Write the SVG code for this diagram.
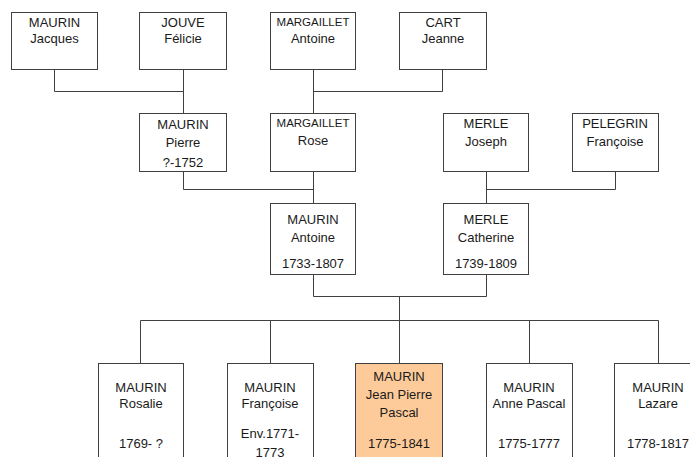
<svg xmlns="http://www.w3.org/2000/svg" width="690" height="457" viewBox="0 0 690 457">
<style>
.box{fill:#fff;stroke:#404040;stroke-width:1}
.me{fill:#FDCB9A;stroke:#404040;stroke-width:1}
text{font-family:"Liberation Sans",Arial,sans-serif;font-size:13px;fill:#1a1a1a;text-anchor:middle}
.sm{font-size:11.5px}
.conn{fill:none;stroke:#404040;stroke-width:1}
</style>
<rect width="690" height="457" fill="#fff"/>
<g id="connectors" class="conn">
<path d="M54.5 69 V91.5 H183.5 M183.5 69 V113"/>
<path d="M442.5 69 V91.5 H313.5 M313.5 69 V113"/>
<path d="M183.5 172 V189.5 H313.5 M313.5 172 V203"/>
<path d="M615.5 172 V189.5 H486.5 M486.5 172 V203"/>
<path d="M313.5 275 V296.5 H486.5 V275 M399.5 296.5 V363"/>
<path d="M140.5 363 V320.5 H658.5 V363 M270.5 320.5 V363 M529.5 320.5 V363"/>
</g>
<g id="n-jacques"><rect class="box" x="11.5" y="12.5" width="86" height="57"/><text x="54.5" y="27">MAURIN</text><text x="54.5" y="43">Jacques</text></g>
<g id="n-felicie"><rect class="box" x="139.5" y="12.5" width="87" height="57"/><text x="183" y="27">JOUVE</text><text x="183" y="43">Félicie</text></g>
<g id="n-antoine-m"><rect class="box" x="270.5" y="12.5" width="85" height="57"/><text class="sm" x="313" y="26">MARGAILLET</text><text x="313" y="43">Antoine</text></g>
<g id="n-jeanne"><rect class="box" x="399.5" y="12.5" width="87" height="57"/><text x="443" y="27">CART</text><text x="443" y="43">Jeanne</text></g>
<g id="n-pierre"><rect class="box" x="139.5" y="113.5" width="87" height="58"/><text x="183" y="129">MAURIN</text><text x="183" y="147">Pierre</text><text x="183" y="167">?-1752</text></g>
<g id="n-rose"><rect class="box" x="270.5" y="113.5" width="85" height="58"/><text class="sm" x="313" y="127">MARGAILLET</text><text x="313" y="145">Rose</text></g>
<g id="n-joseph"><rect class="box" x="443.5" y="113.5" width="85" height="58"/><text x="486" y="128">MERLE</text><text x="486" y="146">Joseph</text></g>
<g id="n-francoise-p"><rect class="box" x="572.5" y="113.5" width="86" height="58"/><text x="615" y="128">PELEGRIN</text><text x="615" y="146">Françoise</text></g>
<g id="n-antoine"><rect class="box" x="270.5" y="203.5" width="85" height="71"/><text x="313" y="224">MAURIN</text><text x="313" y="242">Antoine</text><text x="313" y="268">1733-1807</text></g>
<g id="n-catherine"><rect class="box" x="443.5" y="203.5" width="85" height="71"/><text x="486" y="224">MERLE</text><text x="486" y="242">Catherine</text><text x="486" y="268">1739-1809</text></g>
<g id="n-rosalie"><rect class="box" x="98.5" y="363.5" width="85" height="110"/><text x="141" y="392">MAURIN</text><text x="141" y="408">Rosalie</text><text x="141" y="448">1769- ?</text></g>
<g id="n-francoise"><rect class="box" x="227.5" y="363.5" width="86" height="110"/><text x="270" y="392">MAURIN</text><text x="270" y="408">Françoise</text><text x="270" y="438">Env.1771-</text><text x="270" y="457">1773</text></g>
<g id="n-jeanpierre"><rect class="me" x="355.5" y="363.5" width="87" height="110"/><text x="399" y="381">MAURIN</text><text x="399" y="399">Jean Pierre</text><text x="399" y="417">Pascal</text><text x="399" y="448">1775-1841</text></g>
<g id="n-anne"><rect class="box" x="486.5" y="363.5" width="86" height="110"/><text x="529" y="392">MAURIN</text><text x="529" y="408">Anne Pascal</text><text x="529" y="448">1775-1777</text></g>
<g id="n-lazare"><rect class="box" x="614.5" y="363.5" width="87" height="110"/><text x="658" y="392">MAURIN</text><text x="658" y="408">Lazare</text><text x="658" y="448">1778-1817</text></g>
</svg>
